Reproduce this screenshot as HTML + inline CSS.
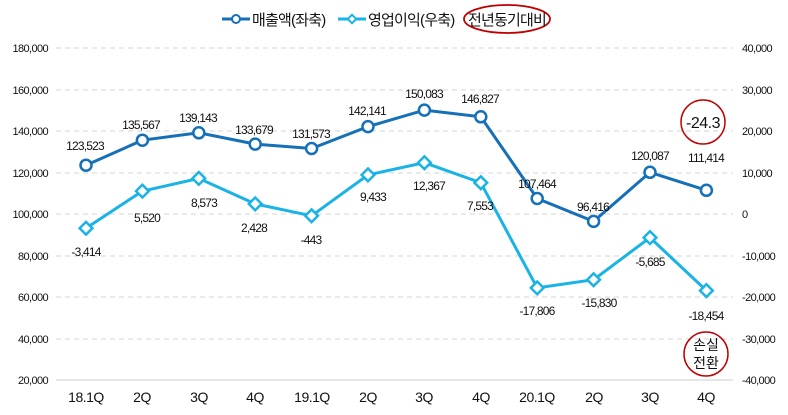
<!DOCTYPE html>
<html><head><meta charset="utf-8"><style>
body{margin:0;background:#fff;}
svg text{font-family:"Liberation Sans","Noto Sans CJK KR",sans-serif;fill:#111;}
.ax{font-size:11px;letter-spacing:-0.6px;fill:#333}
.lb{font-size:12px;letter-spacing:-0.8px;text-anchor:middle}
.xl{font-size:14px;text-anchor:middle;letter-spacing:-0.5px}
</style></head><body>
<svg width="788" height="410" xmlns="http://www.w3.org/2000/svg">
<g stroke="#d4d4d4" stroke-dasharray="5,4" stroke-width="1">
<line x1="56" x2="733" y1="48" y2="48"/><line x1="56" x2="733" y1="90" y2="90"/>
<line x1="56" x2="733" y1="131" y2="131"/><line x1="56" x2="733" y1="173" y2="173"/>
<line x1="56" x2="733" y1="214" y2="214"/><line x1="56" x2="733" y1="256" y2="256"/>
<line x1="56" x2="733" y1="297" y2="297"/><line x1="56" x2="733" y1="339" y2="339"/>
</g>
<line x1="56" x2="733" y1="380" y2="380" stroke="#ccc"/>
<g class="ax" text-anchor="end">
<text x="48" y="52">180,000</text><text x="48" y="94">160,000</text><text x="48" y="135">140,000</text>
<text x="48" y="177">120,000</text><text x="48" y="218">100,000</text><text x="48" y="260">80,000</text>
<text x="48" y="301">60,000</text><text x="48" y="343">40,000</text><text x="48" y="384">20,000</text>
</g>
<g class="ax">
<text x="742" y="52">40,000</text><text x="742" y="94">30,000</text><text x="742" y="135">20,000</text>
<text x="742" y="177">10,000</text><text x="742" y="218">0</text><text x="742" y="260">-10,000</text>
<text x="742" y="301">-20,000</text><text x="742" y="343">-30,000</text><text x="742" y="384">-40,000</text>
</g>
<g class="xl">
<text x="86" y="402">18.1Q</text><text x="142" y="402">2Q</text><text x="199" y="402">3Q</text><text x="255" y="402">4Q</text>
<text x="312" y="402">19.1Q</text><text x="368" y="402">2Q</text><text x="424" y="402">3Q</text><text x="481" y="402">4Q</text>
<text x="537" y="402">20.1Q</text><text x="594" y="402">2Q</text><text x="650" y="402">3Q</text><text x="706" y="402">4Q</text>
</g>
<polyline fill="none" stroke="#1570b8" stroke-width="3" points="86,165.2 142.4,140.2 198.8,132.8 255.2,144.1 311.6,148.5 368,126.6 424.4,110.1 480.8,116.8 537.2,198.5 593.6,221.4 650,172.3 706.4,190.3"/>
<g fill="#fff" stroke="#1570b8" stroke-width="2.5">
<circle cx="86" cy="165.2" r="5.5"/><circle cx="142.4" cy="140.2" r="5.5"/><circle cx="198.8" cy="132.8" r="5.5"/><circle cx="255.2" cy="144.1" r="5.5"/><circle cx="311.6" cy="148.5" r="5.5"/><circle cx="368" cy="126.6" r="5.5"/><circle cx="424.4" cy="110.1" r="5.5"/><circle cx="480.8" cy="116.8" r="5.5"/><circle cx="537.2" cy="198.5" r="5.5"/><circle cx="593.6" cy="221.4" r="5.5"/><circle cx="650" cy="172.3" r="5.5"/><circle cx="706.4" cy="190.3" r="5.5"/>
</g>
<polyline fill="none" stroke="#1ab3e6" stroke-width="3" points="86,228.2 142.4,191.1 198.8,178.4 255.2,203.9 311.6,215.8 368,174.9 424.4,162.7 480.8,182.7 537.2,287.9 593.6,279.7 650,237.6 706.4,290.6"/>
<g fill="#fff" stroke="#1ab3e6" stroke-width="2.5">
<rect x="-4.5" y="-4.5" width="9" height="9" transform="translate(86,228.2) rotate(45)"/>
<rect x="-4.5" y="-4.5" width="9" height="9" transform="translate(142.4,191.1) rotate(45)"/>
<rect x="-4.5" y="-4.5" width="9" height="9" transform="translate(198.8,178.4) rotate(45)"/>
<rect x="-4.5" y="-4.5" width="9" height="9" transform="translate(255.2,203.9) rotate(45)"/>
<rect x="-4.5" y="-4.5" width="9" height="9" transform="translate(311.6,215.8) rotate(45)"/>
<rect x="-4.5" y="-4.5" width="9" height="9" transform="translate(368,174.9) rotate(45)"/>
<rect x="-4.5" y="-4.5" width="9" height="9" transform="translate(424.4,162.7) rotate(45)"/>
<rect x="-4.5" y="-4.5" width="9" height="9" transform="translate(480.8,182.7) rotate(45)"/>
<rect x="-4.5" y="-4.5" width="9" height="9" transform="translate(537.2,287.9) rotate(45)"/>
<rect x="-4.5" y="-4.5" width="9" height="9" transform="translate(593.6,279.7) rotate(45)"/>
<rect x="-4.5" y="-4.5" width="9" height="9" transform="translate(650,237.6) rotate(45)"/>
<rect x="-4.5" y="-4.5" width="9" height="9" transform="translate(706.4,290.6) rotate(45)"/>
</g>
<g class="lb">
<text x="85" y="150">123,523</text><text x="141" y="129">135,567</text><text x="198" y="122">139,143</text>
<text x="254" y="134">133,679</text><text x="311" y="138">131,573</text><text x="367" y="115">142,141</text>
<text x="424" y="98">150,083</text><text x="480" y="103">146,827</text><text x="537" y="188">107,464</text>
<text x="593" y="211">96,416</text><text x="650" y="160">120,087</text><text x="706" y="162">111,414</text>
<text x="86" y="256">-3,414</text><text x="147" y="222">5,520</text><text x="204" y="207">8,573</text>
<text x="254" y="232">2,428</text><text x="311" y="244">-443</text><text x="373" y="201">9,433</text>
<text x="429" y="190">12,367</text><text x="480" y="210">7,553</text><text x="537" y="315">-17,806</text>
<text x="599" y="307">-15,830</text><text x="650" y="266">-5,685</text><text x="706" y="320">-18,454</text>
</g>
<ellipse cx="703" cy="122" rx="22" ry="22" fill="none" stroke="#c00000" stroke-width="1.5"/>
<text x="703" y="128" font-size="16" text-anchor="middle" letter-spacing="-0.5">-24.3</text>
<circle cx="706" cy="354" r="22" fill="none" stroke="#c00000" stroke-width="1.5"/>
<text x="706" y="350" font-size="14" text-anchor="middle">손실</text>
<text x="706" y="368" font-size="14" text-anchor="middle">전환</text>
<line x1="222" x2="250" y1="19" y2="19" stroke="#1570b8" stroke-width="3"/>
<circle cx="236" cy="19" r="4" fill="#fff" stroke="#1570b8" stroke-width="2"/>
<text x="252" y="25" font-size="15" letter-spacing="-0.8">매출액(좌축)</text>
<line x1="338" x2="366" y1="19" y2="19" stroke="#1ab3e6" stroke-width="3"/>
<rect x="-3" y="-3" width="6" height="6" transform="translate(352,19) rotate(45)" fill="#fff" stroke="#1ab3e6" stroke-width="2"/>
<text x="368" y="25" font-size="15" letter-spacing="-0.8">영업이익(우축)</text>
<ellipse cx="507" cy="19" rx="43" ry="14" fill="none" stroke="#c00000" stroke-width="1.8"/>
<text x="507" y="25" font-size="15" text-anchor="middle" letter-spacing="-0.8">전년동기대비</text>
</svg>
</body></html>
